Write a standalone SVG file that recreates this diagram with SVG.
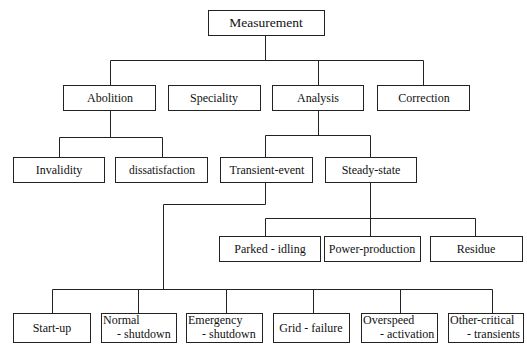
<svg xmlns="http://www.w3.org/2000/svg" width="527" height="344" viewBox="0 0 527 344" font-family="'Liberation Serif', 'DejaVu Serif', serif">
<style>
.box{fill:#fff;stroke:#222;stroke-width:1}
.c{fill:none;stroke:#222;stroke-width:1}
text{font-family:'Liberation Serif','DejaVu Serif',serif;font-size:12px;fill:#111}
.m{text-anchor:middle}
</style>
<rect width="527" height="344" fill="#fff"/>
<g id="connectors">
<path class="c" d="M265.5 35V60.5M110.5 60.5H423.5M110.5 60.5V85M318.5 60.5V85M423.5 60.5V85"/>
<path class="c" d="M110.5 110V137.5M59.5 137.5H162.5M59.5 137.5V157M162.5 137.5V157"/>
<path class="c" d="M318.5 110V135.5M265.5 135.5H370.5M265.5 135.5V157M370.5 135.5V157"/>
<path class="c" d="M265.5 182V204.5H163.5V289.5M52.5 289.5H492.5M52.5 289.5V313M138.5 289.5V313M226.5 289.5V313M313.5 289.5V313M400.5 289.5V313M492.5 289.5V313"/>
<path class="c" d="M370.5 182V218.5M265.5 218.5H475.5M265.5 218.5V236M370.5 218.5V236M475.5 218.5V236"/>
</g>
<g id="measurement"><rect class="box" x="208.5" y="10.5" width="116" height="25"/><text class="m" x="266" y="27" style="font-size:13.5px">Measurement</text></g>
<g id="abolition"><rect class="box" x="63.5" y="85.5" width="92" height="25"/><text class="m" x="110" y="102">Abolition</text></g>
<g id="speciality"><rect class="box" x="168.5" y="85.5" width="92" height="25"/><text class="m" x="214" y="102">Speciality</text></g>
<g id="analysis"><rect class="box" x="272.5" y="85.5" width="91" height="25"/><text class="m" x="318" y="102">Analysis</text></g>
<g id="correction"><rect class="box" x="377.5" y="85.5" width="92" height="25"/><text class="m" x="424" y="102">Correction</text></g>
<g id="invalidity"><rect class="box" x="13.5" y="157.5" width="91" height="25"/><text class="m" x="59" y="174">Invalidity</text></g>
<g id="dissatisfaction"><rect class="box" x="115.5" y="157.5" width="92" height="25"/><text class="m" x="162" y="174" style="font-size:11.5px">dissatisfaction</text></g>
<g id="transient-event"><rect class="box" x="220.5" y="157.5" width="92" height="25"/><text class="m" x="267" y="174">Transient-event</text></g>
<g id="steady-state"><rect class="box" x="325.5" y="157.5" width="91" height="25"/><text class="m" x="371" y="174">Steady-state</text></g>
<g id="parked-idling"><rect class="box" x="219.5" y="236.5" width="101" height="25"/><text class="m" x="270" y="253">Parked - idling</text></g>
<g id="power-production"><rect class="box" x="324.5" y="236.5" width="96" height="25"/><text class="m" x="372" y="253">Power-production</text></g>
<g id="residue"><rect class="box" x="430.5" y="236.5" width="92" height="25"/><text class="m" x="476" y="253">Residue</text></g>
<g id="start-up"><rect class="box" x="13.5" y="313.5" width="77" height="29"/><text class="m" x="52" y="332">Start-up</text></g>
<g id="normal-shutdown"><rect class="box" x="101.5" y="313.5" width="75" height="29"/><text x="103" y="324">Normal</text><text x="117" y="338">- shutdown</text></g>
<g id="emergency-shutdown"><rect class="box" x="186.5" y="313.5" width="76" height="29"/><text x="188" y="324">Emergency</text><text x="202" y="338">- shutdown</text></g>
<g id="grid-failure"><rect class="box" x="273.5" y="313.5" width="76" height="29"/><text class="m" x="311" y="332">Grid - failure</text></g>
<g id="overspeed-activation"><rect class="box" x="361.5" y="313.5" width="76" height="29"/><text x="363" y="324">Overspeed</text><text x="380" y="338">- activation</text></g>
<g id="other-critical-transients"><rect class="box" x="448.5" y="313.5" width="75" height="29"/><text x="450" y="324">Other-critical</text><text x="467" y="338">- transients</text></g>
</svg>
